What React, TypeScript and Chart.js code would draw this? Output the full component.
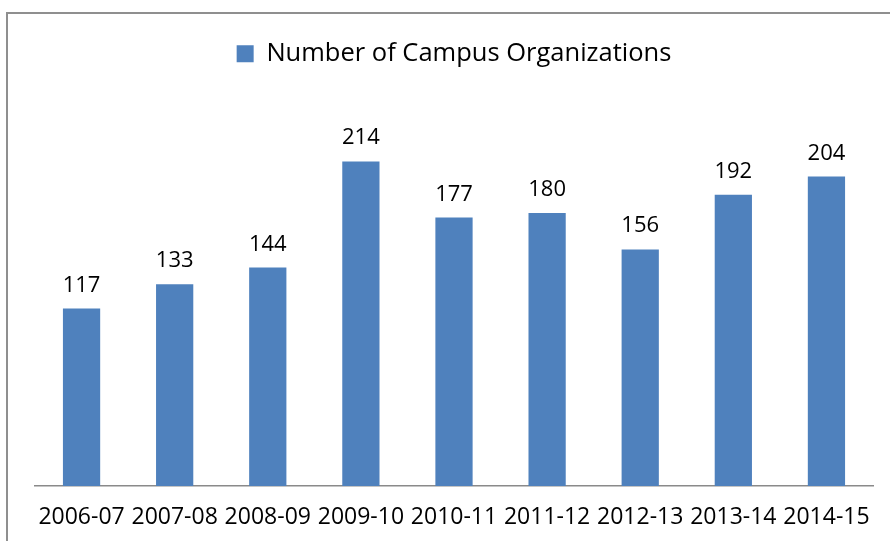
import React, { useEffect, useRef } from "react";
import { Chart, registerables } from "chart.js";

Chart.register(...registerables);

const categories = ["2006-07", "2007-08", "2008-09", "2009-10", "2010-11", "2011-12", "2012-13", "2013-14", "2014-15"];
const seriesName = "Number of Campus Organizations";
const values = [117, 133, 144, 214, 177, 180, 156, 192, 204];
const yMax = 270;

const FONT = "'Open Sans', 'DejaVu Sans', sans-serif";

const dataLabels = {
  id: "dataLabels",
  afterDatasetsDraw(chart: any) {
    const ctx = chart.ctx;
    const meta = chart.getDatasetMeta(0);
    ctx.save();
    ctx.font = `22px ${FONT}`;
    ctx.fillStyle = "#000000";
    ctx.textAlign = "center";
    ctx.textBaseline = "alphabetic";
    meta.data.forEach((bar: any, i: number) => {
      ctx.fillText(String(values[i]), bar.x, bar.y - 17);
    });
    ctx.restore();
  },
};

export default function App() {
  const ref = useRef<HTMLCanvasElement | null>(null);
  useEffect(() => {
    document.body.style.margin = "0";
    const chart = new Chart(ref.current as HTMLCanvasElement, {
      type: "bar",
      data: {
        labels: categories,
        datasets: [
          {
            label: seriesName,
            data: values,
            backgroundColor: "#4F81BD",
            borderWidth: 0,
            categoryPercentage: 1,
            barPercentage: 0.4,
          },
        ],
      },
      options: {
        animation: false,
        responsive: false,
        layout: { padding: { top: 6, left: 35, right: 17, bottom: 0 } },
        plugins: {
          legend: {
            display: true,
            position: "top",
            labels: {
              boxWidth: 17,
              boxHeight: 17,
              color: "#000000",
              padding: 35,
              font: { family: FONT, size: 25.5 },
            },
          },
          tooltip: { enabled: false },
        },
        scales: {
          y: { display: false, min: 0, max: yMax },
          x: {
            grid: { display: false, drawTicks: false },
            border: { display: true, color: "#8a8a8a", width: 1.5 },
            ticks: { color: "#000000", font: { family: FONT, size: 23 }, padding: 18 },
            afterFit: (scale: any) => {
              scale.height = 55;
            },
          },
        },
      },
      plugins: [dataLabels],
    });
    return () => chart.destroy();
  }, []);
  return (
    <div style={{ position: "relative", width: 890, height: 541, overflow: "hidden", background: "#ffffff" }}>
      <div
        style={{
          position: "absolute",
          left: 6,
          top: 12,
          width: 1000,
          height: 1000,
          border: "2px solid #8f8f8f",
          boxSizing: "border-box",
        }}
      />
      <canvas ref={ref} width={890} height={541} style={{ position: "absolute", left: 0, top: 0 }} />
    </div>
  );
}
